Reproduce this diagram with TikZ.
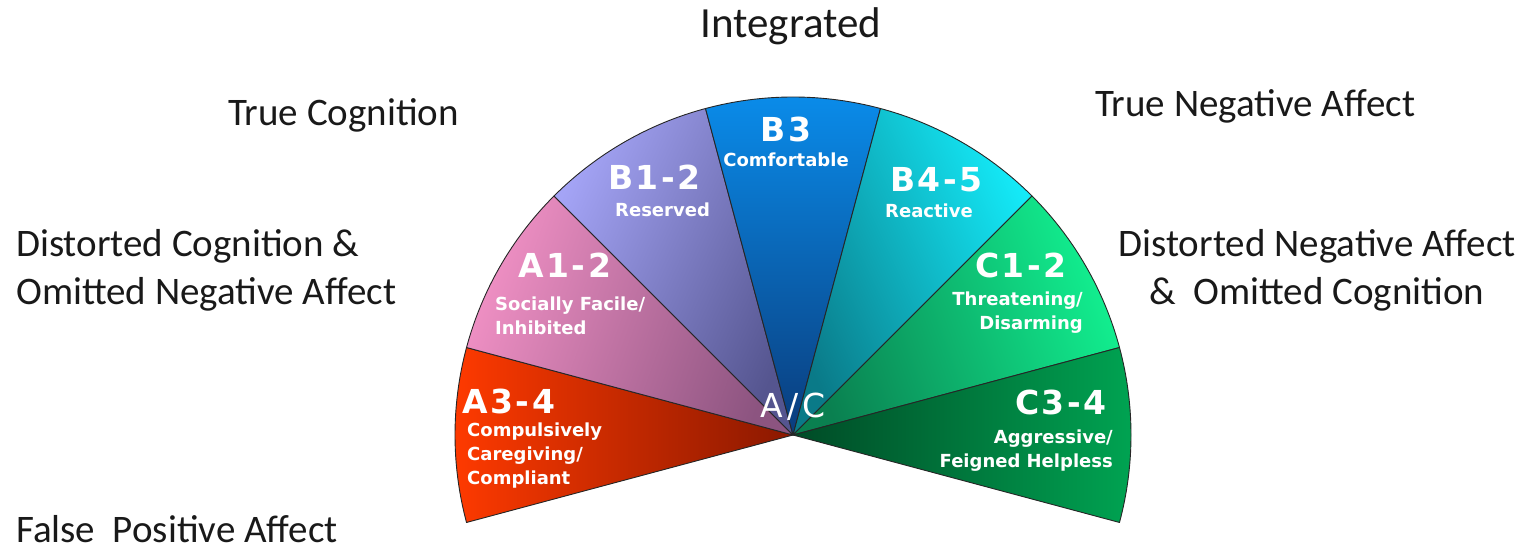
\documentclass[tikz,border=0pt]{standalone}
\usepackage{fontspec}
\setmainfont{Carlito}
\newfontfamily\wedgefont{DejaVu Sans}
\usetikzlibrary{positioning}

\definecolor{redOut}{HTML}{FF3A00}
\definecolor{redIn}{HTML}{8A1800}
\definecolor{pinkOut}{HTML}{F090C4}
\definecolor{pinkIn}{HTML}{8C5480}
\definecolor{lilacOut}{HTML}{A4A4F6}
\definecolor{lilacIn}{HTML}{55558F}
\definecolor{blueOut}{HTML}{0A8CEA}
\definecolor{blueIn}{HTML}{0A3C7C}
\definecolor{cyanOut}{HTML}{14EAF8}
\definecolor{cyanIn}{HTML}{0A7A88}
\definecolor{greenOut}{HTML}{12F090}
\definecolor{greenIn}{HTML}{0A8050}
\definecolor{darkOut}{HTML}{00A452}
\definecolor{darkIn}{HTML}{004A26}

\def\radius{338}
% start/stop angle, outer colour, inner colour, shading angle
\def\wedges{{165/195/redOut/redIn/90}, {135/165/pinkOut/pinkIn/70}, {105/135/lilacOut/lilacIn/65}, {75/105/blueOut/blueIn/0}, {45/75/cyanOut/cyanIn/-65}, {15/45/greenOut/greenIn/-70}, {-15/15/darkOut/darkIn/-90}}

\tikzstyle{wedge}=[draw=black!85, line width=0.9pt, line join=round]
\tikzstyle{zone label}=[font=\fontsize{39}{48}\selectfont, text=black!90, inner sep=0pt]
\tikzstyle{code label}=[font=\wedgefont\bfseries\fontsize{33}{33}\selectfont\addfontfeature{LetterSpace=8}, text=white, inner sep=0pt]
\tikzstyle{type label}=[font=\wedgefont\bfseries\fontsize{18}{24}\selectfont, text=white, inner sep=0pt]

\begin{document}
\begin{tikzpicture}[x=1pt,y=1pt]
  \useasboundingbox (0,0) rectangle (1530,551);
  % The apex of the fan
  \coordinate (ac) at (793,116);

  % The seven wedges
  \foreach \start/\stop/\outer/\inner/\tilt in \wedges {
    \path[wedge, top color=\outer, bottom color=\inner, shading angle=\tilt]
      (ac) -- ++(\start:\radius) arc (\start:\stop:\radius) -- cycle;
    }

  % Codes and types inside the wedges (multi-line nodes sit on their last line)
  \node[code label, anchor=base west] (a34) at (462,137) {A3-4};
  \node[type label, anchor=base west, align=left] (a34t) at (467,66) {Compulsively\\Caregiving/\\Compliant};
  \node[code label, anchor=base west] (a12) at (518,273) {A1-2};
  \node[type label, anchor=base west, align=left] (a12t) at (495,216) {Socially Facile/\\Inhibited};
  \node[code label, anchor=base west] (b12) at (608,361) {B1-2};
  \node[type label, anchor=base west] (b12t) at (615,334) {Reserved};
  \node[code label, anchor=base] (b3) at (786,409) {B3};
  \node[type label, anchor=base] (b3t) at (786,384) {Comfortable};
  \node[code label, anchor=base west] (b45) at (890,359) {B4-5};
  \node[type label, anchor=base west] (b45t) at (885,333) {Reactive};
  \node[code label, anchor=base east] (c12) at (1067,273) {C1-2};
  \node[type label, anchor=base east, align=right] (c12t) at (1083,221) {Threatening/\\Disarming};
  \node[code label, anchor=base east] (c34) at (1107,136) {C3-4};
  \node[type label, anchor=base east, align=right] (c34t) at (1113,83) {Aggressive/\\Feigned Helpless};
  \node[code label, anchor=base, font=\wedgefont\fontsize{33}{33}\selectfont\addfontfeature{LetterSpace=12}] (acl) at (793,133) {A/C};

  % The zones round the fan
  \node[zone label, anchor=base, font=\fontsize{43}{48}\selectfont] (integ) at (791,513) {Integrated};
  \node[zone label, anchor=base west] (tcog) at (228,425) {True Cognition};
  \node[zone label, anchor=base west, align=left] (dcog) at (16,246) {Distorted Cognition \&\\Omitted Negative Affect};
  \node[zone label, anchor=base west] (tneg) at (1095,434) {True Negative Affect};
  \node[zone label, anchor=base, align=center] (dneg) at (1317,246) {Distorted Negative Affect\\\&\ \ Omitted Cognition};
  \node[zone label, anchor=base west] (fpos) at (16,9) {False\ \ Positive Affect};
\end{tikzpicture}
\end{document}
